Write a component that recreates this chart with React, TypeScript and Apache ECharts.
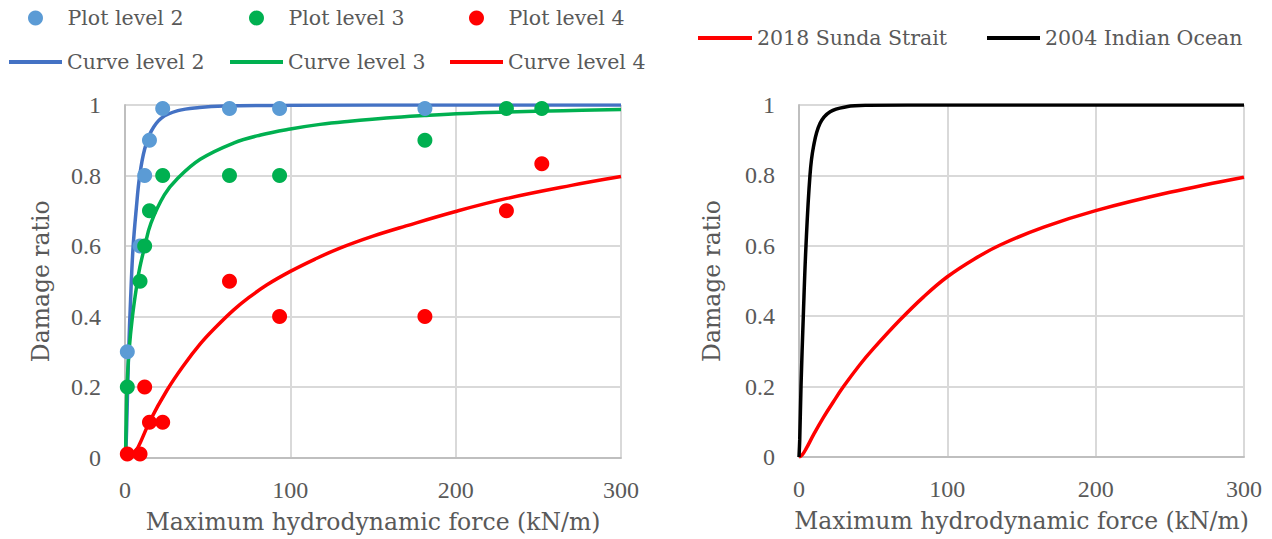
import React, { useEffect, useRef } from "react";
import * as echarts from "echarts";

// ---- Observed damage points (left panel) ----
const plot2X = [1.4, 9.1, 11.9, 14.8, 22.8, 63.2, 93.5, 181.4];
const plot2Y = [0.3, 0.6, 0.8, 0.9, 0.99, 0.99, 0.99, 0.99];
const plot3X = [1.4, 9.1, 11.9, 14.8, 22.8, 63.2, 93.5, 181.4, 230.7, 252.1];
const plot3Y = [0.2, 0.5, 0.6, 0.7, 0.8, 0.8, 0.8, 0.9, 0.99, 0.99];
const plot4X = [1.4, 9.1, 11.9, 14.8, 22.8, 63.2, 93.5, 181.4, 230.7, 252.1];
const plot4Y = [0.01, 0.01, 0.2, 0.1, 0.1, 0.5, 0.4, 0.4, 0.7, 0.833];

// ---- Fragility curves (left panel) ----
const curve2X = [0, 0.5, 1.2, 2.2, 3.4, 4.8, 6.9, 8.9, 11.9, 15.9, 22, 32, 45, 60, 100, 200, 300];
const curve2Y = [0, 0.02, 0.12, 0.3, 0.45, 0.59, 0.71, 0.8, 0.875, 0.926, 0.963, 0.984, 0.993, 0.997, 0.999, 1, 1];
const curve3X = [0.3, 0.7, 1.2, 2.4, 4.5, 7.5, 9, 12, 15.7, 23.8, 31.5, 45.5, 65.6, 82, 100, 118, 136, 158, 181, 205, 231, 265, 300];
const curve3Y = [0, 0.1, 0.2, 0.3, 0.4, 0.5, 0.54, 0.6, 0.665, 0.745, 0.79, 0.846, 0.892, 0.915, 0.932, 0.945, 0.954, 0.963, 0.97, 0.976, 0.98, 0.984, 0.987];
const curve4X = [0, 5, 8, 15.2, 25.3, 35, 45.5, 55, 65.6, 75, 85.9, 100, 115, 130, 150, 170, 200, 231, 270, 300];
const curve4Y = [0, 0.01, 0.03, 0.105, 0.19, 0.258, 0.322, 0.37, 0.418, 0.454, 0.49, 0.528, 0.563, 0.594, 0.628, 0.657, 0.698, 0.735, 0.772, 0.797];

// ---- Right panel curves ----
const sundaX = [0, 2, 5, 10, 16.4, 23.2, 30, 41, 50, 68, 84, 100, 118, 136, 165, 200, 250, 300];
const sundaY = [0, 0.005, 0.025, 0.065, 0.112, 0.157, 0.2, 0.262, 0.307, 0.389, 0.455, 0.512, 0.562, 0.603, 0.653, 0.7, 0.752, 0.795];
const indianX = [0, 0.5, 1.35, 2.9, 4.7, 7.4, 9.7, 14.2, 21, 32, 46, 100, 300];
const indianY = [0, 0.05, 0.2, 0.4, 0.6, 0.8, 0.88, 0.948, 0.981, 0.995, 0.999, 1, 1];

const xTicks = { min: 0, max: 300, interval: 100 };
const yTicks = { min: 0, max: 1, interval: 0.2 };

const zip = (xs: number[], ys: number[]) => xs.map((x, i) => [x, ys[i]]);

const TEXT = "#595959";
const TICK_FONT = "'Liberation Serif', 'Times New Roman', serif";
const NAME_FONT = "'DejaVu Serif', serif";

export default function App() {
  const ref = useRef<HTMLDivElement>(null);
  useEffect(() => {
    if (!ref.current) return;
    const chart = echarts.init(ref.current, undefined, { renderer: "svg" });
    const mkX = (gridIndex: number) => ({
      type: "value",
      gridIndex,
      min: xTicks.min,
      max: xTicks.max,
      interval: xTicks.interval,
      name: "Maximum hydrodynamic force (kN/m)",
      nameLocation: "middle",
      nameGap: 52,
      nameTextStyle: { fontFamily: NAME_FONT, fontSize: 23.5, color: TEXT },
      axisLine: { show: true, lineStyle: { color: "#bfbfbf", width: 2 } },
      axisTick: { show: false },
      axisLabel: { fontFamily: TICK_FONT, fontSize: 24, color: TEXT, margin: 20 },
      splitLine: { show: true, lineStyle: { color: "#d9d9d9", width: 2 } },
    });
    const mkY = (gridIndex: number) => ({
      type: "value",
      gridIndex,
      min: yTicks.min,
      max: yTicks.max,
      interval: yTicks.interval,
      name: "Damage ratio",
      nameLocation: "middle",
      nameGap: gridIndex === 0 ? 72 : 75,
      nameTextStyle: { fontFamily: NAME_FONT, fontSize: 23.5, color: TEXT },
      axisLine: { show: true, lineStyle: { color: "#bfbfbf", width: 2 } },
      axisTick: { show: false },
      axisLabel: { fontFamily: TICK_FONT, fontSize: 24, color: TEXT, margin: 24 },
      splitLine: { show: true, lineStyle: { color: "#d9d9d9", width: 2 } },
    });
    const lineSeries = (name: string, xs: number[], ys: number[], color: string, idx: number) => ({
      name,
      type: "line",
      xAxisIndex: idx,
      yAxisIndex: idx,
      data: zip(xs, ys),
      symbol: "none",
      smooth: 0.4,
      color,
      lineStyle: { color, width: 3.5 },
      z: 2,
    });
    const scatterSeries = (name: string, xs: number[], ys: number[], color: string) => ({
      name,
      type: "scatter",
      xAxisIndex: 0,
      yAxisIndex: 0,
      data: zip(xs, ys),
      symbol: "circle",
      symbolSize: 15,
      color,
      itemStyle: { color, opacity: 1 },
      z: 3,
    });
    const legendText = { fontFamily: NAME_FONT, fontSize: 20.5, color: TEXT };
    const lineLegend = (name: string, left: number, top: number, w = 53) => ({
      left,
      top,
      padding: 0,
      itemWidth: w,
      itemHeight: 4,
      textStyle: legendText,
      selectedMode: false,
      data: [{ name, icon: "rect" }],
    });
    const dotLegend = (name: string, cx: number, top: number) => ({
      left: cx - 7.5,
      top,
      padding: 0,
      itemWidth: 15,
      itemHeight: 15,
      textStyle: { ...legendText, padding: [0, 0, 0, 19.5] },
      selectedMode: false,
      data: [{ name, icon: "circle" }],
    });
    chart.setOption({
      animation: false,
      grid: [
        { left: 125, top: 105, width: 496, height: 352.5 },
        { left: 799, top: 105, width: 445, height: 352 },
      ],
      legend: [
        dotLegend("Plot level 2", 35.5, 7.5),
        dotLegend("Plot level 3", 256.5, 7.5),
        dotLegend("Plot level 4", 476.5, 7.5),
        lineLegend("Curve level 2", 9, 51.5),
        lineLegend("Curve level 3", 230, 51.5),
        lineLegend("Curve level 4", 450, 51.5),
        lineLegend("2018 Sunda Strait", 698, 27.5, 54),
        lineLegend("2004 Indian Ocean", 987, 27.5),
      ],
      xAxis: [mkX(0), mkX(1)],
      yAxis: [mkY(0), mkY(1)],
      series: [
        scatterSeries("Plot level 2", plot2X, plot2Y, "#5B9BD5"),
        scatterSeries("Plot level 3", plot3X, plot3Y, "#00B050"),
        scatterSeries("Plot level 4", plot4X, plot4Y, "#FF0000"),
        lineSeries("Curve level 2", curve2X, curve2Y, "#4472C4", 0),
        lineSeries("Curve level 3", curve3X, curve3Y, "#00B050", 0),
        lineSeries("Curve level 4", curve4X, curve4Y, "#FF0000", 0),
        lineSeries("2018 Sunda Strait", sundaX, sundaY, "#FF0000", 1),
        lineSeries("2004 Indian Ocean", indianX, indianY, "#000000", 1),
      ],
    });
    return () => chart.dispose();
  }, []);
  return (
    <div
      ref={ref}
      style={{ position: "absolute", left: 0, top: 0, width: 1272, height: 539, background: "#fff" }}
    />
  );
}
